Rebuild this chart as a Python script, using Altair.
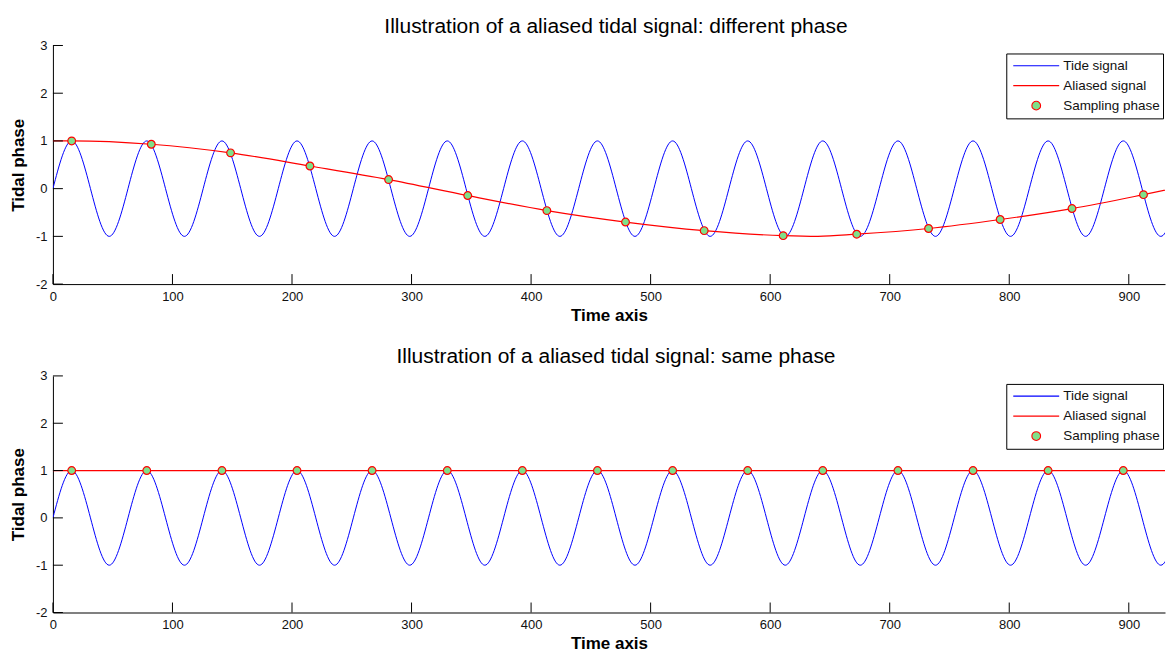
import altair as alt
import pandas as pd

# ---------------- data ----------------
tide_t = [0.0, 15.7, 31.4, 47.1, 62.8, 78.5, 94.2, 110.0, 125.7, 141.4,
          157.1, 172.8, 188.5, 204.2, 219.9, 235.6, 251.3, 267.0, 282.7, 298.5,
          314.2, 329.9, 345.6, 361.3, 377.0, 392.7, 408.4, 424.1, 439.8, 455.5,
          471.2, 486.9, 502.7, 518.4, 534.1, 549.8, 565.5, 581.2, 596.9, 612.6,
          628.3, 644.0, 659.7, 675.4, 691.2, 706.9, 722.6, 738.3, 754.0, 769.7,
          785.4, 801.1, 816.8, 832.5, 848.2, 863.9, 879.6, 895.4, 911.1, 926.8,
          942.5]
tide_v = [0, 1, 0, -1, 0, 1, 0, -1, 0, 1,
          0, -1, 0, 1, 0, -1, 0, 1, 0, -1,
          0, 1, 0, -1, 0, 1, 0, -1, 0, 1,
          0, -1, 0, 1, 0, -1, 0, 1, 0, -1,
          0, 1, 0, -1, 0, 1, 0, -1, 0, 1,
          0, -1, 0, 1, 0, -1, 0, 1, 0, -1,
          0]

top_alias_t = [0.0, 15.7, 82.3, 148.6, 215.0, 280.8, 347.0, 413.2, 479.0, 544.8,
               610.9, 640.0, 672.4, 732.5, 792.4, 852.5, 912.3, 942.5]
top_alias_v = [1.0, 1.0, 0.93, 0.75, 0.475, 0.19, -0.145, -0.46, -0.70, -0.88,
               -0.985, -1.0, -0.955, -0.835, -0.647, -0.417, -0.126, 0.03]

top_dot_t = [15.7, 82.3, 148.6, 215.0, 280.8, 347.0, 413.2, 479.0, 544.8, 610.9,
             672.4, 732.5, 792.4, 852.5, 912.3]
top_dot_v = [1.0, 0.93, 0.75, 0.475, 0.19, -0.145, -0.46, -0.70, -0.88, -0.985,
             -0.955, -0.835, -0.647, -0.417, -0.126]

bottom_alias_t = [0.0, 942.5]
bottom_alias_v = [1.0, 1.0]

bottom_dot_t = [15.7, 78.5, 141.4, 204.2, 267.0, 329.9, 392.7, 455.5, 518.4, 581.2,
                644.0, 706.9, 769.7, 832.5, 895.4]
bottom_dot_v = [1.0, 1.0, 1.0, 1.0, 1.0, 1.0, 1.0, 1.0, 1.0, 1.0,
                1.0, 1.0, 1.0, 1.0, 1.0]

x_tick_values = [0, 100, 200, 300, 400, 500, 600, 700, 800, 900]
y_tick_values = [-2, -1, 0, 1, 2, 3]
legend_names = ["Tide signal", "Aliased signal", "Sampling phase"]

titles = ["Illustration of a aliased tidal signal: different phase",
          "Illustration of a aliased tidal signal: same phase"]

# ---------------- styling ----------------
FONT = "Liberation Sans"
BLUE = "#0000FF"
RED = "#FF0000"
GREEN = "#7FE08A"
CIRCLE_PATH = "M-0.19,0A0.19,0.19,0,1,1,0.19,0A0.19,0.19,0,1,1,-0.19,0Z"
PLOT_W = 1114
X_MAX = 930.3


def panel(title, alias_t, alias_v, dot_t, dot_v, h):
    xs = alt.Scale(domain=[0, X_MAX], nice=False, zero=False)
    ys = alt.Scale(domain=[-2, 3], nice=False, zero=False)
    xaxis = alt.Axis(values=x_tick_values, ticks=False, tickSize=0, grid=False,
                     title="Time axis", labelExpr="'' + datum.value",
                     labelFont=FONT, labelFontSize=13, labelColor="#111",
                     labelPadding=6, titleFont=FONT, titleFontSize=17,
                     titleFontWeight="bold", titleColor="black", titlePadding=4,
                     domainColor="black", labelFlush=False, labelOverlap=False)
    yaxis = alt.Axis(values=y_tick_values, ticks=False, tickSize=0, grid=False,
                     title="Tidal phase", labelExpr="'' + datum.value",
                     labelFont=FONT, labelFontSize=13, labelColor="#111",
                     labelPadding=6, titleFont=FONT, titleFontSize=17,
                     titleFontWeight="bold", titleColor="black", titlePadding=8,
                     domainColor="black", labelFlush=False, labelOverlap=False)
    X = alt.X("t:Q", scale=xs, axis=xaxis)
    Y = alt.Y("v:Q", scale=ys, axis=yaxis)

    tide_df = pd.DataFrame({"t": tide_t, "v": tide_v})
    alias_df = pd.DataFrame({"t": alias_t, "v": alias_v})
    dot_df = pd.DataFrame({"t": dot_t, "v": dot_v})
    xt_df = pd.DataFrame({"t": x_tick_values})
    yt_df = pd.DataFrame({"v": y_tick_values})
    leg_df = pd.DataFrame({"series": legend_names})

    tide = alt.Chart(tide_df).mark_line(color=BLUE, strokeWidth=1, interpolate="natural",
                                        clip=True).encode(x=X, y=Y)
    alias = alt.Chart(alias_df).mark_line(color=RED, strokeWidth=1.2, interpolate="monotone",
                                          clip=True).encode(x=X, y=Y)
    dots = alt.Chart(dot_df).mark_point(filled=True, fill=GREEN, stroke=RED, strokeWidth=1.2,
                                        size=60, opacity=1, clip=True).encode(x=X, y=Y)
    xt = alt.Chart(xt_df).mark_rule(color="black", strokeWidth=1).encode(
        x=X, y=alt.value(h), y2=alt.value(h - 10))
    yt = alt.Chart(yt_df).mark_rule(color="black", strokeWidth=1).encode(
        y=Y, x=alt.value(0), x2=alt.value(10))

    leg = alt.Legend(title=None, orient="none", legendX=955, legendY=8,
                     strokeColor="black", fillColor="white", padding=2.5,
                     symbolSize=2116, symbolStrokeWidth=1.1, symbolOpacity=1,
                     symbolOffset=3.5, labelOffset=3, clipHeight=19.5, rowPadding=0,
                     labelFont=FONT, labelFontSize=13.5, labelColor="#111",
                     labelLimit=200)
    legend_layer = alt.Chart(leg_df).mark_point(opacity=0).encode(
        fill=alt.Fill("series:N", scale=alt.Scale(domain=legend_names,
                                                  range=["transparent", "transparent", GREEN]),
                      legend=leg, sort=legend_names),
        stroke=alt.Stroke("series:N", scale=alt.Scale(domain=legend_names,
                                                      range=[BLUE, RED, RED]),
                          legend=leg, sort=legend_names),
        shape=alt.Shape("series:N", scale=alt.Scale(domain=legend_names,
                                                    range=["stroke", "stroke", CIRCLE_PATH]),
                        legend=leg, sort=legend_names),
    )

    return alt.layer(tide, alias, dots, xt, yt, legend_layer).properties(
        width=PLOT_W, height=h,
        title=alt.TitleParams(title, font=FONT, fontSize=21, fontWeight="normal",
                              color="black", anchor="middle", offset=3, dx=7),
    )


top = panel(titles[0], top_alias_t, top_alias_v, top_dot_t, top_dot_v, 239)
bottom = panel(titles[1], bottom_alias_t, bottom_alias_v, bottom_dot_t, bottom_dot_v, 237)

chart = alt.vconcat(top, bottom, spacing=21).resolve_scale(
    x="independent", y="independent", fill="independent", stroke="independent",
    shape="independent"
).resolve_legend(
    fill="independent", stroke="independent", shape="independent"
).properties(
    padding={"left": 0, "right": 0, "top": 6, "bottom": 0},
    background="white",
).configure_view(stroke="transparent")

chart.save("out.html", embed_options={"renderer": "svg", "actions": False})
